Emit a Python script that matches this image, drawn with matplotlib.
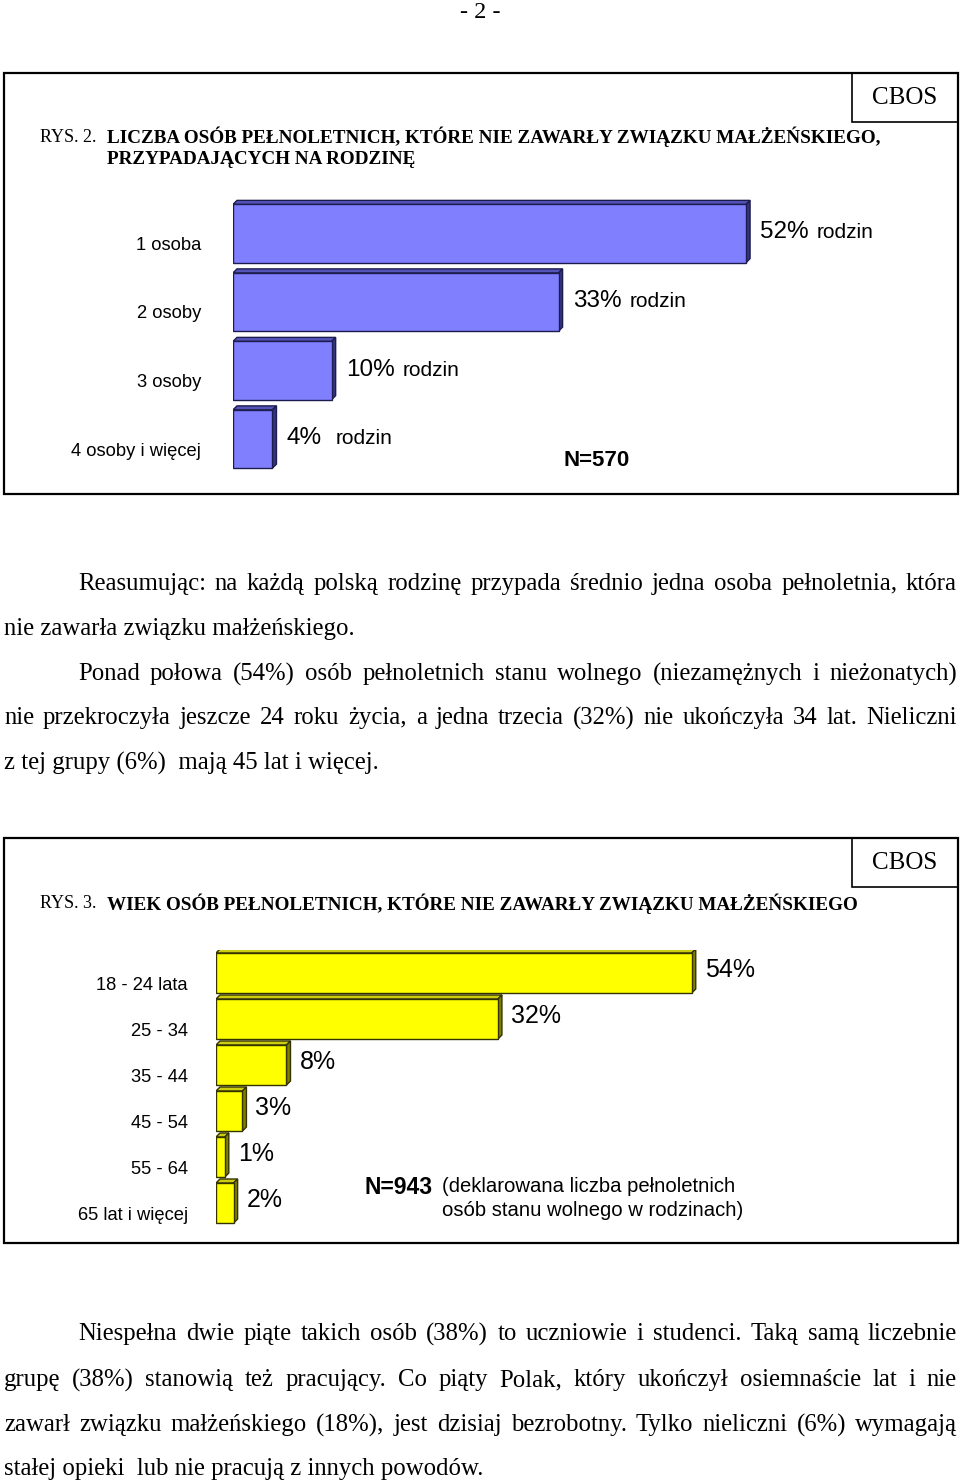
import numpy as np
import matplotlib.pyplot as plt
from matplotlib.patches import Rectangle, Polygon

# dane - rys. 2
rodzina_kat = ['1 osoba', '2 osoby', '3 osoby', '4 osoby i więcej']
rodzina_proc = [52, 33, 10, 4]
N_rodzina = 570

# dane - rys. 3
wiek_kat = ['18 - 24 lata', '25 - 34', '35 - 44', '45 - 54', '55 - 64', '65 lat i więcej']
wiek_proc = [54, 32, 8, 3, 1, 2]
N_wiek = 943

W, H = 960, 1484
SERIF = 'Liberation Serif'
SANS = 'Liberation Sans'

fig = plt.figure(figsize=(W / 100, H / 100), dpi=100)
page = fig.add_axes([0, 0, 1, 1])
page.set_xlim(0, W)
page.set_ylim(H, 0)
page.axis('off')
renderer = fig.canvas.get_renderer()


def px_axes(left, top, width, height):
    ax = fig.add_axes([left / W, 1 - (top + height) / H, width / W, height / H])
    ax.set_facecolor('none')
    ax.axis('off')
    return ax


def bars3d(ax, values, height, face, top, side, edge, depth=4):
    y = np.arange(len(values))
    bars = ax.barh(y, values, height=height, color=face, edgecolor=edge, linewidth=1, zorder=3)
    bb = ax.get_position()
    x0, x1 = ax.get_xlim()
    y0, y1 = ax.get_ylim()
    dx = depth * (x1 - x0) / (bb.width * W)
    dy = depth * abs(y1 - y0) / (bb.height * H)
    for b in bars:
        x, yt, w, h = b.get_x(), b.get_y(), b.get_width(), b.get_height()
        ax.add_patch(Polygon([(x, yt), (x + w, yt), (x + w + dx, yt - dy), (x + dx, yt - dy)],
                             closed=True, fc=top, ec=edge, lw=1, zorder=2))
        ax.add_patch(Polygon([(x + w, yt), (x + w + dx, yt - dy), (x + w + dx, yt + h - dy), (x + w, yt + h)],
                             closed=True, fc=side, ec=edge, lw=1, zorder=2))
    return bars


def frame(top, bottom, y_title, rys, title_lines):
    page.add_patch(Rectangle((4, top), 954, bottom - top, fill=False, ec='black', lw=1.6))
    page.add_patch(Rectangle((852, top), 106, 49, fill=False, ec='black', lw=1.2))
    page.text(905, top + 25, 'CBOS', family=SERIF, fontsize=18, ha='center', va='center')
    page.text(40, y_title, rys, family=SERIF, fontsize=13, ha='left', va='center')
    for k, line in enumerate(title_lines):
        page.text(107, y_title + 23 * k, line, family=SERIF, fontsize=13.8, weight='bold',
                  ha='left', va='center')


def justified(y, x0, x1, line, size=17.8, justify=True):
    if not justify:
        page.text(x0, y, line, family=SERIF, fontsize=size, ha='left', va='center')
        return
    words = line.split()
    texts = [page.text(0, y, w, family=SERIF, fontsize=size, ha='left', va='center') for w in words]
    inv = page.transData.inverted()
    widths = []
    for t in texts:
        e = t.get_window_extent(renderer)
        widths.append(inv.transform((e.x1, 0))[0] - inv.transform((e.x0, 0))[0])
    gap = (x1 - x0 - sum(widths)) / (len(words) - 1)
    x = x0
    for t, w in zip(texts, widths):
        t.set_x(x)
        x += w + gap


# numer strony
page.text(480, 12, '- 2 -', family=SERIF, fontsize=17.5, ha='center', va='center')

# ---------- RYS. 2 ----------
frame(73, 494, 137, 'RYS. 2.',
      ['LICZBA OSÓB PEŁNOLETNICH, KTÓRE NIE ZAWARŁY ZWIĄZKU MAŁŻEŃSKIEGO,',
       'PRZYPADAJĄCYCH NA RODZINĘ'])

ax1 = px_axes(233, 199.25, 592, 274)
ax1.set_xlim(0, 60)
ax1.set_ylim(len(rodzina_proc) - 0.5, -0.5)
bars3d(ax1, rodzina_proc, 0.85, '#8080FF', '#5454B8', '#34347E', '#1C1C4E')
for i, (k, v) in enumerate(zip(rodzina_kat, rodzina_proc)):
    ax1.annotate(k, xy=(0, i), xytext=(-32, -12), textcoords='offset pixels',
                 family=SANS, fontsize=13.2, ha='right', va='center')
    num = ax1.annotate(f'{v}%', xy=(v, i), xytext=(14, 1), textcoords='offset pixels',
                       family=SANS, fontsize=17.5, ha='left', va='center')
    ax1.annotate('rodzin', xy=(1, 0), xycoords=num, xytext=(8 if v >= 10 else 14, 1),
                 textcoords='offset pixels', family=SANS, fontsize=15, ha='left', va='bottom')
page.text(597, 461, f'N={N_rodzina}', family=SANS, fontsize=16, weight='bold',
          ha='center', va='center')

# ---------- tekst 1 ----------
justified(584, 78, 957, 'Reasumując: na każdą polską rodzinę przypada średnio jedna osoba pełnoletnia, która')
justified(629, 4, 957, 'nie zawarła związku małżeńskiego.', justify=False)
justified(674, 78, 957, 'Ponad połowa (54%) osób pełnoletnich stanu wolnego (niezamężnych i nieżonatych)')
justified(718, 4, 957, 'nie przekroczyła jeszcze 24  roku życia, a jedna trzecia (32%) nie ukończyła 34 lat. Nieliczni')
justified(763, 4, 957, 'z tej grupy (6%)  mają 45 lat i więcej.', justify=False)

# ---------- RYS. 3 ----------
frame(838, 1243, 904, 'RYS. 3.',
      ['WIEK OSÓB PEŁNOLETNICH, KTÓRE NIE ZAWARŁY ZWIĄZKU MAŁŻEŃSKIEGO'])

ax2 = px_axes(216, 950, 528.6, 276)
ax2.set_xlim(0, 60)
ax2.set_ylim(len(wiek_proc) - 0.5, -0.5)
bars3d(ax2, wiek_proc, 0.87, '#FFFF00', '#CCCC10', '#808000', '#333300')
for i, (k, v) in enumerate(zip(wiek_kat, wiek_proc)):
    ax2.annotate(k, xy=(0, i), xytext=(-28, -12), textcoords='offset pixels',
                 family=SANS, fontsize=13.2, ha='right', va='center')
    ax2.annotate(f'{v}%', xy=(v, i), xytext=(13, 3), textcoords='offset pixels',
                 family=SANS, fontsize=18, ha='left', va='center')
page.text(365, 1187, f'N={N_wiek}', family=SANS, fontsize=16.5, weight='bold',
          ha='left', va='center')
page.text(442, 1186, '(deklarowana liczba pełnoletnich', family=SANS, fontsize=14.6,
          ha='left', va='center')
page.text(442, 1210, 'osób stanu wolnego w rodzinach)', family=SANS, fontsize=14.6,
          ha='left', va='center')

# ---------- tekst 2 ----------
justified(1334, 78, 957, 'Niespełna dwie piąte takich osób (38%) to uczniowie i studenci. Taką samą liczebnie')
justified(1380, 4, 957, 'grupę (38%) stanowią też pracujący. Co piąty Polak, który ukończył osiemnaście lat i nie')
justified(1425, 4, 957, 'zawarł związku małżeńskiego (18%), jest dzisiaj bezrobotny. Tylko nieliczni (6%) wymagają')
justified(1469, 4, 957, 'stałej opieki  lub nie pracują z innych powodów.', justify=False)

fig.savefig('out.png', dpi=100)
